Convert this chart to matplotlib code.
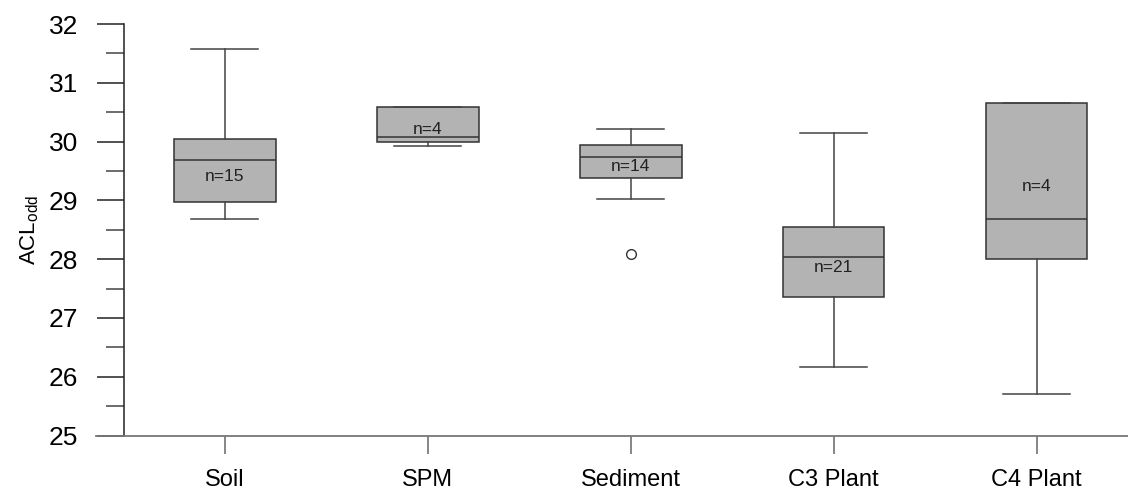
import matplotlib.pyplot as plt
from matplotlib.ticker import MultipleLocator

plt.rcParams['font.family'] = ['Liberation Sans', 'DejaVu Sans']
plt.rcParams['mathtext.default'] = 'regular'

groups = ['Soil', 'SPM', 'Sediment', 'C3 Plant', 'C4 Plant']
counts = [15, 4, 14, 21, 4]
whisker_low = [28.69, 29.93, 29.02, 26.16, 25.70]
q1 = [28.97, 29.99, 29.38, 27.35, 28.00]
medians = [29.68, 30.08, 29.74, 28.04, 28.69]
q3 = [30.05, 30.59, 29.94, 28.55, 30.65]
whisker_high = [31.57, 30.59, 30.21, 30.15, 30.65]
outliers = [[], [], [28.08], [], []]
means = [29.41, 30.20, 29.57, 27.85, 29.23]

stats = []
for i, g in enumerate(groups):
    stats.append(dict(label=g, whislo=whisker_low[i], q1=q1[i], med=medians[i],
                      q3=q3[i], whishi=whisker_high[i], fliers=outliers[i]))

positions = list(range(1, len(groups) + 1))

fig = plt.figure(figsize=(11.28, 4.95), dpi=100)
ax = fig.add_axes([0.1095, 0.1202, 1 - 0.1095, 0.8313])

edge = '#333333'
ax.bxp(stats, positions=positions, widths=0.5, capwidths=0.33, patch_artist=True,
       boxprops=dict(facecolor='#b3b3b3', edgecolor=edge, linewidth=1.1),
       medianprops=dict(color=edge, linewidth=1.1),
       whiskerprops=dict(color='#444444', linewidth=1.1),
       capprops=dict(color='#444444', linewidth=1.1),
       flierprops=dict(marker='o', markerfacecolor='white', markeredgecolor=edge,
                       markersize=7, markeredgewidth=1))

for p, m, n in zip(positions, means, counts):
    ax.text(p, m, f'n={n}', ha='center', va='center', fontsize=12.5, color='#222222')

ax.set_xlim(0.5, 5.45)
ax.set_ylim(25, 32)
ax.set_xticks(positions)
ax.set_xticklabels(groups)
ax.set_yticks(range(25, 33))
ax.yaxis.set_minor_locator(MultipleLocator(0.5))

ax.tick_params(axis='y', which='major', length=19.5, width=1.1, color='#222222',
               labelsize=19, pad=13)
ax.tick_params(axis='y', which='minor', length=13, width=1.1, color='#444444')
ax.tick_params(axis='x', length=13.3, width=1.1, color='#666666', labelsize=17, pad=11)

ax.spines['top'].set_visible(False)
ax.spines['right'].set_visible(False)
ax.spines['left'].set_color('#222222')
ax.spines['left'].set_linewidth(1.1)
ax.spines['bottom'].set_color('#777777')
ax.spines['bottom'].set_linewidth(1.3)
ax.spines['bottom'].set_bounds(0.5 - 27.5 / 203, 5.45)

ax.set_ylabel('ACL$_{odd}$', fontsize=16, labelpad=6)

fig.savefig('out.png', dpi=100)
